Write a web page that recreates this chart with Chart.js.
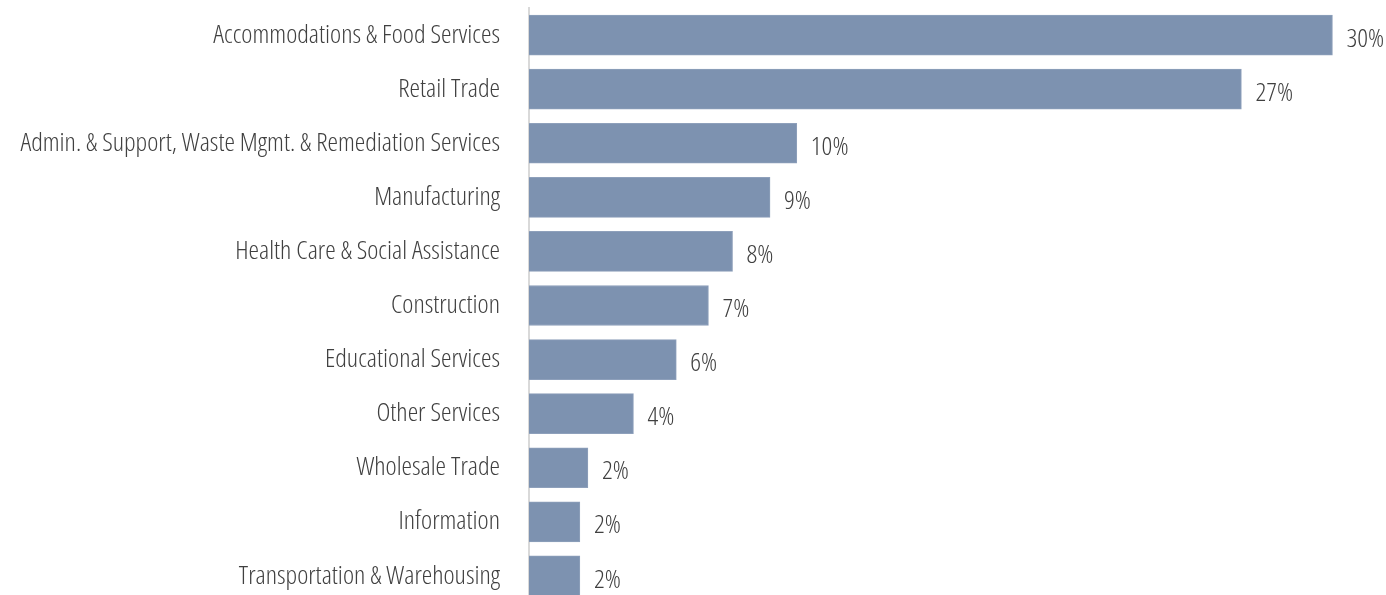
<!DOCTYPE html>
<html>
<head>
<meta charset="utf-8">
<script src="https://cdn.jsdelivr.net/npm/chart.js@4"></script>
<style>
  html, body { margin: 0; padding: 0; background: #fff; overflow: hidden; }
</style>
</head>
<body>
<canvas id="chart" width="1386" height="603"></canvas>
<script>
// Share of businesses by industry (%)
const industries = [
  "Accommodations & Food Services",
  "Retail Trade",
  "Admin. & Support, Waste Mgmt. & Remediation Services",
  "Manufacturing",
  "Health Care & Social Assistance",
  "Construction",
  "Educational Services",
  "Other Services",
  "Wholesale Trade",
  "Information",
  "Transportation & Warehousing"
];
const shares = [30, 26.6, 10, 9, 7.6, 6.7, 5.5, 3.9, 2.2, 1.9, 1.9];

const FONT_FAMILY = "'Open Sans', sans-serif";
const FONT_WEIGHT = "300 condensed";
const FONT_SIZE = 26.5;
const TEXT_COLOR = "#404040";

// write the rounded % at the end of each bar
const valueLabels = {
  id: "valueLabels",
  afterDatasetsDraw(chart) {
    const ctx = chart.ctx;
    const meta = chart.getDatasetMeta(0);
    ctx.save();
    ctx.font = FONT_WEIGHT + " " + FONT_SIZE + "px " + FONT_FAMILY;
    ctx.fillStyle = TEXT_COLOR;
    ctx.textAlign = "left";
    ctx.textBaseline = "middle";
    meta.data.forEach((bar, i) => {
      ctx.fillText(Math.round(shares[i]) + "%", bar.x + 14, bar.y + 4);
    });
    ctx.restore();
  }
};

const ctx = document.getElementById("chart").getContext("2d");
new Chart(ctx, {
  type: "bar",
  data: {
    labels: industries,
    datasets: [{
      data: shares,
      backgroundColor: "#7d92b0",
      borderColor: "#8ea0bb",
      borderWidth: 1,
      barThickness: 40
    }]
  },
  options: {
    responsive: false,
    indexAxis: "y",
    animation: false,
    layout: { padding: { top: 8, right: 0, bottom: 0, left: 0 } },
    plugins: {
      legend: { display: false },
      tooltip: { enabled: false }
    },
    scales: {
      x: {
        display: false,
        min: 0,
        max: 32
      },
      y: {
        grid: { display: false },
        border: { display: true, color: "#d9d9d9", width: 2 },
        ticks: {
          color: TEXT_COLOR,
          padding: 21,
          font: { family: FONT_FAMILY, size: FONT_SIZE, weight: FONT_WEIGHT }
        },
        afterFit(scale) {
          scale.width = 529;
          scale.paddingTop = 0;
          scale.paddingBottom = 0;
        }
      }
    }
  },
  plugins: [valueLabels]
});
</script>
</body>
</html>
